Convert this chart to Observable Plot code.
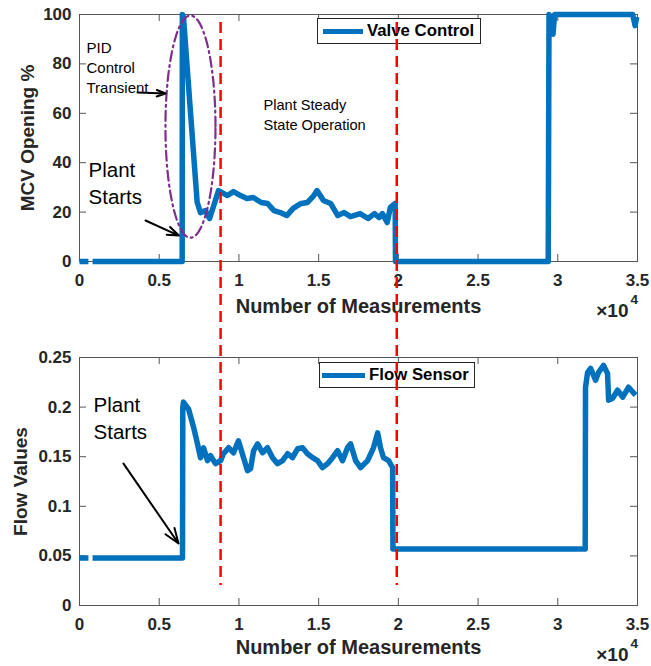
<!DOCTYPE html>
<html>
<head>
<meta charset="utf-8">
<script src="https://cdn.jsdelivr.net/npm/d3@7"></script>
<script src="https://cdn.jsdelivr.net/npm/@observablehq/plot@0.6"></script>
<style>
  body { margin: 0; background: #fff; }
  #fig { position: relative; width: 651px; height: 666px; background: #fff;
         font-family: "Liberation Sans", Arial, Helvetica, sans-serif; }
  .legend { position: absolute; box-sizing: border-box; border: 1px solid #262626; background: #fff;
            display: flex; align-items: center; font-weight: bold; font-size: 16.8px; color: #000; }
  .legend .swatch { display: inline-block; height: 5px; background: #0072BD; margin-right: 4px; }
</style>
</head>
<body>
<div id="fig"></div>
<script>
// ---- data -------------------------------------------------------------
const xTicks = [0, 5000, 10000, 15000, 20000, 25000, 30000, 35000];
const valveTicks = [0, 20, 40, 60, 80, 100];
const flowTicks = [0, 0.05, 0.1, 0.15, 0.2, 0.25];
const phaseBoundaries = [8850, 19900];   // end of PID transient, end of steady state

// [measurement index, MCV opening %]
const valveControl = [[0,0],[560,0],[690,null],[820,0],[6440,0],[6450,100],[6520,99],[7380,24],
  [7590,19.8],[7900,20.6],[8160,17.4],[8720,28.7],[9280,26.7],[9660,28.3],[10100,26.7],[10500,25.5],
  [10900,25.9],[11400,23.9],[11800,23.5],[12200,20.6],[12600,19.8],[13000,18.6],[13400,21.5],
  [13900,23.5],[14300,23.9],[14700,26.7],[14900,28.7],[15300,24.7],[15750,23.5],[16200,18.6],
  [16600,19.8],[17000,18.2],[17600,19.4],[18100,17.4],[18500,19.4],[18800,17.8],[19000,19.4],
  [19300,15.8],[19500,21.9],[19800,23.5],[19820,0],[29400,0],[29450,100],[29600,98],[29700,92],
  [29800,100],[34700,100],[34850,95.5],[34950,99]];

// [measurement index, flow value]
const flowSensor = [[0,0.048],[560,0.048],[690,null],[820,0.048],[6460,0.048],[6480,0.2],[6520,0.205],
  [6840,0.198],[7150,0.18],[7400,0.163],[7590,0.149],[7780,0.159],[8030,0.146],[8220,0.151],
  [8530,0.143],[8850,0.146],[9030,0.153],[9350,0.159],[9660,0.154],[9970,0.166],[10290,0.149],
  [10540,0.136],[10730,0.138],[10920,0.156],[11170,0.163],[11480,0.154],[11790,0.159],[12110,0.149],
  [12420,0.143],[12740,0.146],[13050,0.153],[13360,0.149],[13680,0.158],[13990,0.159],[14300,0.153],
  [14620,0.149],[14930,0.146],[15240,0.139],[15560,0.143],[15870,0.149],[16190,0.156],[16500,0.146],
  [16810,0.159],[17000,0.163],[17320,0.146],[17630,0.139],[18070,0.146],[18440,0.159],[18700,0.174],
  [18880,0.159],[19070,0.149],[19390,0.146],[19640,0.139],[19660,0.057],[31720,0.057],[31740,0.22],
  [31870,0.235],[32060,0.239],[32370,0.227],[32560,0.235],[32870,0.242],[33120,0.234],[33190,0.207],
  [33440,0.209],[33750,0.217],[34070,0.21],[34440,0.22],[34880,0.212]];

// annotations (data coordinates)
const valveNotes = [
  {x: 440, y: 86.2, text: "PID", size: 15},
  {x: 440, y: 78.1, text: "Control", size: 15},
  {x: 440, y: 70.2, text: "Transient", size: 15},
  {x: 565, y: 36.8, text: "Plant", size: 20.5},
  {x: 565, y: 26.1, text: "Starts", size: 20.5},
  {x: 11540, y: 63.2, text: "Plant Steady", size: 14.6},
  {x: 11540, y: 55.1, text: "State Operation", size: 14.6}
];
const valveArrows = [
  {x1: 3640, y1: 68.4, x2: 5400, y2: 68.0},
  {x1: 4140, y1: 16.6, x2: 6230, y2: 10.5}
];
const flowNotes = [
  {x: 880, y: 0.2016, text: "Plant", size: 20.5},
  {x: 880, y: 0.1744, text: "Starts", size: 20.5}
];
const flowArrows = [
  {x1: 2760, y1: 0.143, x2: 6210, y2: 0.0625}
];
// transient region outline: centre and radii
const transientCenter = [6960, 54.6];
const transientRadii = [1570, 45];

// ---- drawing ----------------------------------------------------------
const FONT = '"Liberation Sans", Arial, Helvetica, sans-serif';
const W = 651, ML = 79, MR = 14;
const AXIS = "#555";
const BLUE = "#0072BD";
const fig = document.getElementById("fig");

function panel({series, yDomain, yTicks, top, height, marginTop, marginBottom, yLabel, yLabelDx,
                xLabelDy, expDy, notes, arrows, extra = []}) {
  const innerW = W - ML - MR, innerH = height - marginTop - marginBottom;
  const svg = Plot.plot({
    width: W, height, marginLeft: ML, marginRight: MR, marginTop, marginBottom,
    style: `position:absolute;left:0;top:${top}px;background:transparent;overflow:visible;` +
           `font-family:${FONT};font-size:17px;font-weight:bold;color:#262626;`,
    x: {domain: [0, 35000], ticks: xTicks, tickFormat: d => String(d / 1e4), tickSize: 0, tickPadding: 12, label: null},
    y: {domain: yDomain, ticks: yTicks, tickFormat: d => String(d), tickSize: 0, tickPadding: 8, label: null},
    marks: [
      Plot.frame({stroke: AXIS}),
      // inward ticks on all four sides
      Plot.ruleX(xTicks, {x: d => d, insetTop: innerH - 7, stroke: AXIS}),
      Plot.ruleX(xTicks, {x: d => d, insetBottom: innerH - 7, stroke: AXIS}),
      Plot.ruleY(yTicks, {y: d => d, insetRight: innerW - 7, stroke: AXIS}),
      Plot.ruleY(yTicks, {y: d => d, insetLeft: innerW - 7, stroke: AXIS}),
      Plot.line(series, {x: d => d[0], y: d => d[1], stroke: BLUE, strokeWidth: 5.5,
                         strokeLinejoin: "round", strokeLinecap: "butt"}),
      ...extra,
      Plot.arrow(arrows, {x1: "x1", y1: "y1", x2: "x2", y2: "y2", stroke: "#000",
                          strokeWidth: 2, headLength: 12, headAngle: 40}),
      Plot.text(notes, {x: "x", y: "y", text: "text", fontSize: d => d.size, textAnchor: "start",
                        fontWeight: "normal", fill: "#000"}),
      Plot.text(["Number of Measurements"], {frameAnchor: "bottom", dy: xLabelDy, fontSize: 20,
                                             textAnchor: "middle", lineAnchor: "middle",
                                             fontWeight: "bold", fill: "#262626"}),
      Plot.text([yLabel], {frameAnchor: "left", dx: yLabelDx, rotate: -90, fontSize: 19,
                           textAnchor: "middle", lineAnchor: "middle",
                           fontWeight: "bold", fill: "#262626"}),
      Plot.text(["\u00d710"], {frameAnchor: "bottom-right", dx: -9, dy: expDy, textAnchor: "end",
                               lineAnchor: "middle", fontSize: 19, fontWeight: "bold", fill: "#262626"}),
      Plot.text(["4"], {frameAnchor: "bottom-right", dx: -7, dy: expDy - 11, textAnchor: "start",
                        lineAnchor: "middle", fontSize: 13.5, fontWeight: "bold", fill: "#262626"})
    ]
  });
  fig.appendChild(svg);
}

// dash-dot outline around the PID transient
const transientOutline = d3.range(0, 361, 4).map(a => {
  const t = a * Math.PI / 180;
  return [transientCenter[0] + transientRadii[0] * Math.cos(t),
          transientCenter[1] + transientRadii[1] * Math.sin(t)];
});

panel({
  series: valveControl, yDomain: [0, 100], yTicks: valveTicks,
  top: 0, height: 330, marginTop: 14, marginBottom: 69,
  yLabel: "MCV Opening %", yLabelDx: -52, xLabelDy: 45, expDy: 49,
  notes: valveNotes, arrows: valveArrows,
  extra: [Plot.line(transientOutline, {x: d => d[0], y: d => d[1], stroke: "#7E2F8E",
                                       strokeWidth: 2.2, strokeDasharray: "10,4,2,4", curve: "linear"})]
});

panel({
  series: flowSensor, yDomain: [0, 0.25], yTicks: flowTicks,
  top: 330, height: 336, marginTop: 27, marginBottom: 61,
  yLabel: "Flow Values", yLabelDx: -59, xLabelDy: 42.5, expDy: 49,
  notes: flowNotes, arrows: flowArrows
});

// legends
function legend(label, left, top, width, swatchStart, swatchWidth) {
  const box = document.createElement("div");
  box.className = "legend";
  Object.assign(box.style, {left: left + "px", top: top + "px", width: width + "px", height: "26px",
                            paddingLeft: (swatchStart - left - 1) + "px"});
  const sw = document.createElement("span");
  sw.className = "swatch";
  sw.style.width = swatchWidth + "px";
  box.appendChild(sw);
  box.appendChild(document.createTextNode(label));
  fig.appendChild(box);
}
legend("Valve Control", 317, 18, 164, 323, 40);
legend("Flow Sensor", 319, 362, 156, 322, 43);

// phase boundaries spanning both panels
const overlay = Plot.plot({
  width: W, height: 563, marginLeft: ML, marginRight: MR, marginTop: 0, marginBottom: 0,
  style: "position:absolute;left:0;top:22px;background:transparent;pointer-events:none;overflow:visible;",
  x: {domain: [0, 35000], axis: null},
  marks: [Plot.ruleX(phaseBoundaries, {x: d => d, stroke: "#ff0000", strokeWidth: 2.5, strokeDasharray: "11,6"})]
});
fig.appendChild(overlay);
</script>
</body>
</html>
